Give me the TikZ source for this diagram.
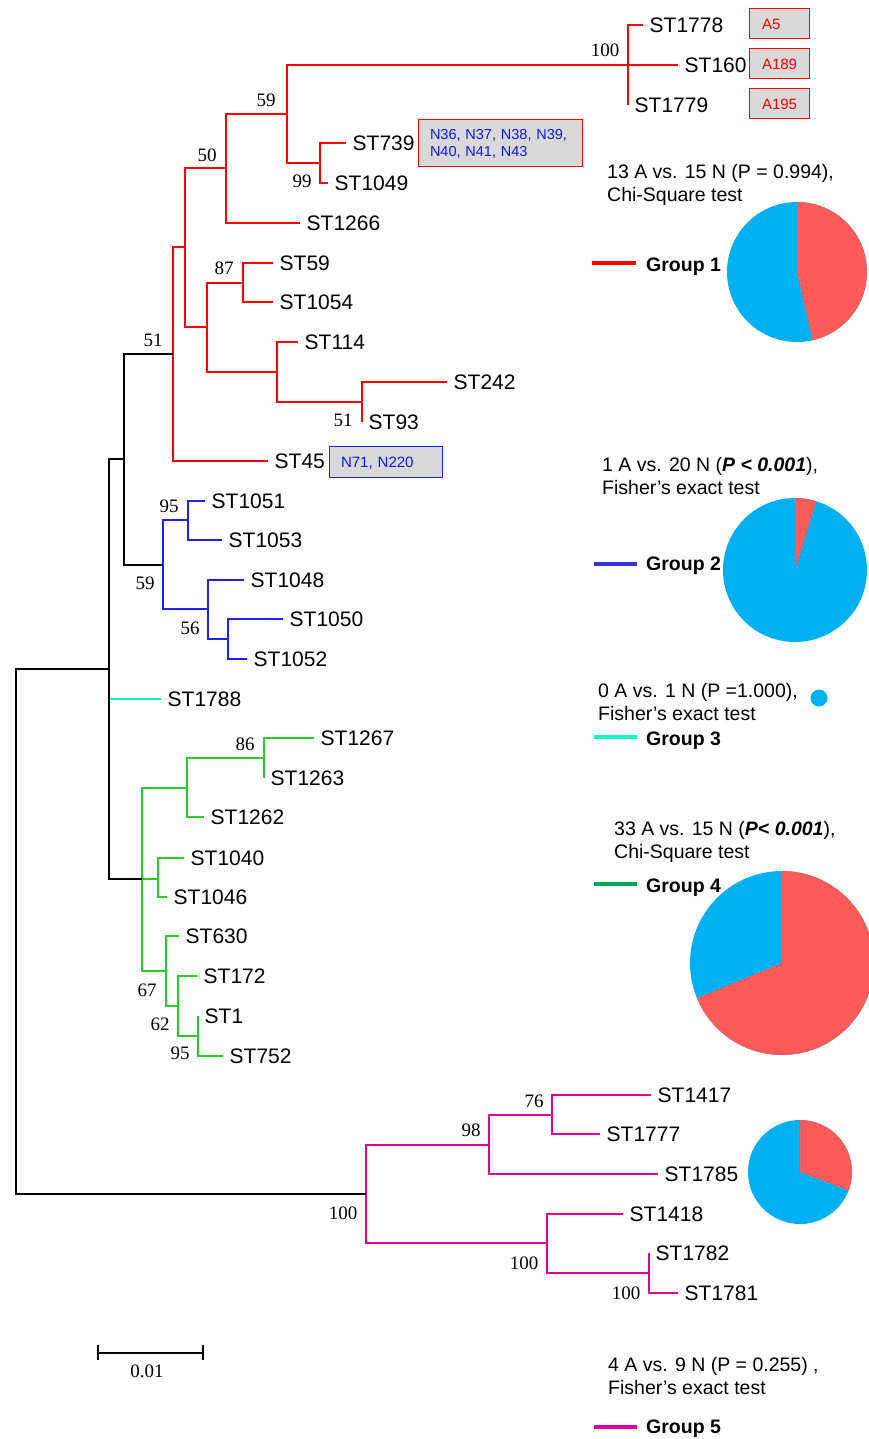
\documentclass[tikz,border=0pt]{standalone}
\usepackage{fontspec}
\setmainfont{Liberation Serif}
\newfontfamily\arial{Liberation Sans}
\definecolor{tred}{RGB}{255,0,0}
\definecolor{tblue}{RGB}{30,30,255}
\definecolor{tcyan}{RGB}{0,240,210}
\definecolor{tgreen}{RGB}{40,205,40}
\definecolor{tpink}{RGB}{225,0,150}
\definecolor{lgreen}{RGB}{0,170,80}
\definecolor{lblue}{RGB}{50,50,225}
\definecolor{lcyan}{RGB}{20,245,205}
\definecolor{pblue}{RGB}{0,176,240}
\definecolor{pred}{RGB}{255,90,90}
\definecolor{boxgray}{RGB}{217,217,217}
\definecolor{txtblue}{RGB}{20,20,255}
\begin{document}
\begin{tikzpicture}[x=1pt,y=-1pt,
  br/.style={line width=1.4pt, line join=miter},
  leaf/.style={anchor=west, inner xsep=6.5pt, inner ysep=0pt, text height=15pt, text depth=0pt, font=\arial\fontsize{21}{21}\selectfont},
  boot/.style={inner sep=0pt, text height=13pt, text depth=0pt, font=\fontsize{19}{19}\selectfont},
  note/.style={anchor=base west, inner sep=0pt, align=left, font=\arial\fontsize{19.5}{23}\selectfont},
  grp/.style={anchor=base west, inner sep=0pt, font=\arial\bfseries\fontsize{19.5}{19.5}\selectfont},
  legline/.style={line width=4pt},
  tagbox/.style={draw, fill=boxgray, line width=1pt, inner ysep=0pt, align=left, text height=11pt, text depth=0pt, font=\arial\fontsize{15}{15}\selectfont}
]
\useasboundingbox (0,0) rectangle (869,1439);

% ---------- internal nodes ----------
\coordinate (r100) at (628,65);
\coordinate (r59) at (287,114);
\coordinate (r99) at (320,163);
\coordinate (r50) at (226,168);
\coordinate (rA) at (185,247);
\coordinate (rB) at (207,327);
\coordinate (r87) at (243,283);
\coordinate (rC) at (277,372);
\coordinate (r51b) at (362,402);
\coordinate (r51) at (173,354);
\coordinate (k1) at (124,459);
\coordinate (b59) at (163,565);
\coordinate (b95) at (188,520);
\coordinate (b56) at (208,609);
\coordinate (bX) at (228,639);
\coordinate (k2) at (109,669);
\coordinate (g) at (142,879);
\coordinate (g1) at (187,788);
\coordinate (g86) at (264,758);
\coordinate (g2) at (158,879);
\coordinate (g67) at (166,971);
\coordinate (g62) at (178,1006);
\coordinate (g95) at (198,1036);
\coordinate (root) at (16,931);
\coordinate (p100) at (366,1194);
\coordinate (p98) at (489,1145);
\coordinate (p76) at (552,1115);
\coordinate (pB) at (547,1243);
\coordinate (p100b) at (649,1273);

% ---------- leaves ----------
\node[leaf] (t1778) at (643,25) {ST1778};
\node[leaf] (t160) at (678,65) {ST160};
\node[leaf] (t1779) at (628,105) {ST1779};
\node[leaf] (t739) at (346,143) {ST739};
\node[leaf] (t1049) at (328,183) {ST1049};
\node[leaf] (t1266) at (300,223) {ST1266};
\node[leaf] (t59) at (273,263) {ST59};
\node[leaf] (t1054) at (273,302) {ST1054};
\node[leaf] (t114) at (298,342) {ST114};
\node[leaf] (t242) at (447,382) {ST242};
\node[leaf] (t93) at (362,422) {ST93};
\node[leaf] (t45) at (268,461) {ST45};
\node[leaf] (t1051) at (205,501) {ST1051};
\node[leaf] (t1053) at (222,540) {ST1053};
\node[leaf] (t1048) at (244,580) {ST1048};
\node[leaf] (t1050) at (283,619) {ST1050};
\node[leaf] (t1052) at (247,659) {ST1052};
\node[leaf] (t1788) at (161,699) {ST1788};
\node[leaf] (t1267) at (314,738) {ST1267};
\node[leaf] (t1263) at (264,778) {ST1263};
\node[leaf] (t1262) at (204,817) {ST1262};
\node[leaf] (t1040) at (184,858) {ST1040};
\node[leaf] (t1046) at (167,897) {ST1046};
\node[leaf] (t630) at (179,936) {ST630};
\node[leaf] (t172) at (197,976) {ST172};
\node[leaf] (t1) at (198,1016) {ST1};
\node[leaf] (t752) at (223,1056) {ST752};
\node[leaf] (t1417) at (651,1095) {ST1417};
\node[leaf] (t1777) at (600,1134) {ST1777};
\node[leaf] (t1785) at (658,1174) {ST1785};
\node[leaf] (t1418) at (623,1214) {ST1418};
\node[leaf] (t1782) at (649,1253) {ST1782};
\node[leaf] (t1781) at (678,1293) {ST1781};

% ---------- branches ----------
\begin{scope}[br, tred]
\draw (r100) |- (t1778.west);
\draw (r100) |- (t1779.west);
\draw (r59) |- (t160.west);
\draw (r59) |- (r99);
\draw (r99) |- (t739.west);
\draw (r99) |- (t1049.west);
\draw (r50) |- (r59);
\draw (r50) |- (t1266.west);
\draw (rA) |- (r50);
\draw (rA) |- (rB);
\draw (rB) |- (r87);
\draw (rB) |- (rC);
\draw (r87) |- (t59.west);
\draw (r87) |- (t1054.west);
\draw (rC) |- (t114.west);
\draw (rC) |- (r51b);
\draw (r51b) |- (t242.west);
\draw (r51b) |- (t93.west);
\draw (r51) |- (rA);
\draw (r51) |- (t45.west);
\end{scope}
\begin{scope}[br, tblue]
\draw (b59) |- (b95);
\draw (b59) |- (b56);
\draw (b95) |- (t1051.west);
\draw (b95) |- (t1053.west);
\draw (b56) |- (t1048.west);
\draw (b56) |- (bX);
\draw (bX) |- (t1050.west);
\draw (bX) |- (t1052.west);
\end{scope}
\begin{scope}[br, tgreen]
\draw (g) |- (g1);
\draw (g) |- (g2);
\draw (g) |- (g67);
\draw (g1) |- (g86);
\draw (g1) |- (t1262.west);
\draw (g86) |- (t1267.west);
\draw (g86) |- (t1263.west);
\draw (g2) |- (t1040.west);
\draw (g2) |- (t1046.west);
\draw (g67) |- (t630.west);
\draw (g67) |- (g62);
\draw (g62) |- (t172.west);
\draw (g62) |- (g95);
\draw (g95) |- (t1.west);
\draw (g95) |- (t752.west);
\end{scope}
\begin{scope}[br, tpink]
\draw (p100) |- (p98);
\draw (p100) |- (pB);
\draw (p98) |- (p76);
\draw (p98) |- (t1785.west);
\draw (p76) |- (t1417.west);
\draw (p76) |- (t1777.west);
\draw (pB) |- (t1418.west);
\draw (pB) |- (p100b);
\draw (p100b) |- (t1782.west);
\draw (p100b) |- (t1781.west);
\end{scope}
\draw[br, tcyan] (k2 |- t1788.west) -- (t1788.west);
\begin{scope}[br, black]
\draw (k1) |- (r51);
\draw (k1) |- (b59);
\draw (k2) |- (k1);
\draw (k2) |- (g);
\draw (root) |- (k2);
\draw (root) |- (p100);
\end{scope}

% ---------- bootstrap values ----------
\node[boot] (s1) at (605,50) {100};
\node[boot] (s2) at (266,100) {59};
\node[boot] (s3) at (302,181) {99};
\node[boot] (s4) at (207,155) {50};
\node[boot] (s5) at (224,268) {87};
\node[boot] (s6) at (343,420) {51};
\node[boot] (s7) at (153,340) {51};
\node[boot] (s8) at (169,506) {95};
\node[boot] (s9) at (145,583) {59};
\node[boot] (s10) at (190,628) {56};
\node[boot] (s11) at (245,744) {86};
\node[boot] (s12) at (147,990) {67};
\node[boot] (s13) at (160,1024) {62};
\node[boot] (s14) at (180,1053) {95};
\node[boot] (s15) at (534,1101) {76};
\node[boot] (s16) at (471,1130) {98};
\node[boot] (s17) at (343,1213) {100};
\node[boot] (s18) at (524,1263) {100};
\node[boot] (s19) at (626,1293) {100};

% ---------- tag boxes ----------
\node[tagbox, draw=tred, text=tred, minimum width=60pt, minimum height=30pt, inner xsep=13pt, text width=34pt] (bxA5) at (779,24) {A5};
\node[tagbox, draw=tred, text=tred, minimum width=60pt, minimum height=30pt, inner xsep=13pt, text width=34pt] (bxA189) at (779,64) {A189};
\node[tagbox, draw=tred, text=tred, minimum width=60pt, minimum height=30pt, inner xsep=13pt, text width=34pt] (bxA195) at (779,104) {A195};
\node[tagbox, draw=tred, text=txtblue, minimum width=164pt, minimum height=47pt, inner xsep=12pt, text width=140pt, text height={}, text depth={}, font=\arial\fontsize{14.5}{17}\selectfont] (bxN36) at (500,143.5) {N36, N37, N38, N39,\\N40, N41, N43};
\node[tagbox, draw=tblue, text=txtblue, minimum width=113pt, minimum height=31pt, inner xsep=12pt, text width=89pt] (bxN71) at (385.5,461.5) {N71, N220};

% ---------- group annotations (anchored at the baseline of the last line) ----------
\node[note] (n1) at (607,202) {13 A vs. 15 N (P = 0.994),\\Chi-Square test};
\node[note] (n2) at (602,494) {1 A vs. 20 N (\textbf{\textit{P < 0.001}}),\\Fisher’s exact test};
\node[note] (n3) at (598,720) {0 A vs. 1 N (P =1.000),\\Fisher’s exact test};
\node[note] (n4) at (614,858) {33 A vs. 15 N (\textbf{\textit{P< 0.001}}),\\Chi-Square test};
\node[note] (n5) at (608,1394) {4 A vs. 9 N (P = 0.255) ,\\Fisher’s exact test};

\coordinate (l1a) at (592,263); \coordinate (l1b) at (636,263);
\coordinate (l2a) at (594,564); \coordinate (l2b) at (637,564);
\coordinate (l3a) at (594,737); \coordinate (l3b) at (637,737);
\coordinate (l4a) at (594,884); \coordinate (l4b) at (637,884);
\coordinate (l5a) at (594,1427); \coordinate (l5b) at (637,1427);
\draw[legline, tred] (l1a) -- (l1b);
\draw[legline, lblue] (l2a) -- (l2b);
\draw[legline, lcyan] (l3a) -- (l3b);
\draw[legline, lgreen] (l4a) -- (l4b);
\draw[legline, tpink] (l5a) -- (l5b);
\node[grp] (g1l) at (646,271) {Group 1};
\node[grp] (g2l) at (646,570) {Group 2};
\node[grp] (g3l) at (646,745) {Group 3};
\node[grp] (g4l) at (646,892) {Group 4};
\node[grp] (g5l) at (646,1433) {Group 5};

% ---------- pies ----------
\coordinate (pc1) at (797,272);
\fill[pblue] (pc1) circle (70);
\fill[pred] (pc1) -- ++(-90:70) arc[start angle=-90, end angle=77.1, radius=70] -- cycle;
\coordinate (pc2) at (795,570);
\fill[pblue] (pc2) circle (72);
\fill[pred] (pc2) -- ++(-90:72) arc[start angle=-90, end angle=-72.9, radius=72] -- cycle;
\coordinate (pc3) at (819,698);
\fill[pblue] (pc3) circle (8.5);
\coordinate (pc4) at (782,963);
\fill[pblue] (pc4) circle (92);
\fill[pred] (pc4) -- ++(-90:92) arc[start angle=-90, end angle=157.5, radius=92] -- cycle;
\coordinate (pc5) at (800,1172);
\fill[pblue] (pc5) circle (52);
\fill[pred] (pc5) -- ++(-90:52) arc[start angle=-90, end angle=20.8, radius=52] -- cycle;

% ---------- scale bar ----------
\coordinate (sbL) at (98,1353);
\coordinate (sbR) at (203,1353);
\draw[br] (sbL) -- (sbR);
\draw[br] (sbL) ++(0,-8) -- ++(0,15);
\draw[br] (sbR) ++(0,-8) -- ++(0,15);
\node[boot] (sbt) at (147,1371) {0.01};
\end{tikzpicture}
\end{document}
